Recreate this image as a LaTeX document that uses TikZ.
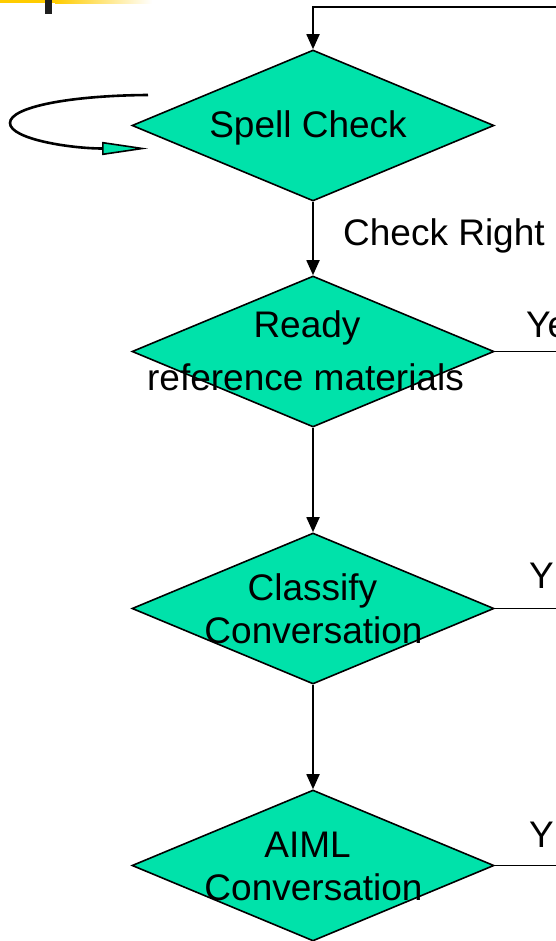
\documentclass[tikz,border=0pt]{standalone}
\usepackage{fontspec}
\setmainfont{Liberation Sans}
\usetikzlibrary{shapes.geometric,arrows.meta}
\definecolor{dgreen}{RGB}{0,226,170}
\definecolor{baryellow}{RGB}{255,204,0}
\begin{document}
\begin{tikzpicture}[x=1pt,y=-1pt,
  decision/.style={shape=diamond,draw=black,line width=1.6pt,fill=dgreen,inner sep=0pt,minimum width=362pt,minimum height=151pt},
  lbl/.style={anchor=base,inner sep=0pt,font=\fontsize{37}{44}\selectfont},
  flow/.style={draw=black,line width=1.8pt,-{Triangle[length=15pt,width=13pt]}},
  plain/.style={draw=black,line width=1.8pt}]
\useasboundingbox (0,0) rectangle (556,941);
% slide decoration
\fill[baryellow] (0,0) rectangle (55,3.5);
\shade[left color=baryellow,right color=white] (55,0) rectangle (152,3.5);
\fill[black!88] (45,0) rectangle (52,14);
% decisions
\node[decision] (spell) at (313,125.5) {};
\node[decision] (ready) at (313,351.5) {};
\node[decision] (class) at (313,608.5) {};
\node[decision] (aiml) at (313,865.5) {};
% texts
\node[lbl] (tspell) at (308,138) {Spell Check};
\node[lbl] (tready1) at (307,337) {Ready};
\node[lbl] (tready2) at (305.5,390) {reference materials};
\node[lbl] (tclass1) at (312.5,600) {Classify};
\node[lbl] (tclass2) at (313.5,643) {Conversation};
\node[lbl] (taiml1) at (307.5,857) {AIML};
\node[lbl] (taiml2) at (313.5,900) {Conversation};
\node[lbl,anchor=base west] (tcheck) at (343,245) {Check Right};
\node[lbl,anchor=base west] (tye1) at (526,337) {Ye};
\node[lbl,anchor=base west] (tye2) at (529,588) {Y};
\node[lbl,anchor=base west] (tye3) at (529,847) {Y};
% connectors
\coordinate (topright) at (556,7);
\coordinate (topleft) at (313,7);
\draw[flow] (topright) -- (topleft) -- (spell.north);
\draw[flow] (spell.south) -- (ready.north);
\draw[flow] (ready.south) -- (class.north);
\draw[flow] (class.south) -- (aiml.north);
\coordinate (r1) at (556,351.5);
\coordinate (r2) at (556,608.5);
\coordinate (r3) at (556,865.5);
\draw[plain] (ready.east) -- (r1);
\draw[plain] (class.east) -- (r2);
\draw[plain] (aiml.east) -- (r3);
% self loop
\coordinate (loopa) at (148,95);
\coordinate (loopl) at (10,123);
\coordinate (loopb) at (148,148.5);
\draw[line width=2.6pt,-{Triangle[length=46pt,width=13pt,fill=dgreen,line width=1.6pt]}]
  (loopa) .. controls (70,95.5) and (10,107) .. (loopl)
  .. controls (10,139) and (70,148.5) .. (loopb);
\end{tikzpicture}
\end{document}
